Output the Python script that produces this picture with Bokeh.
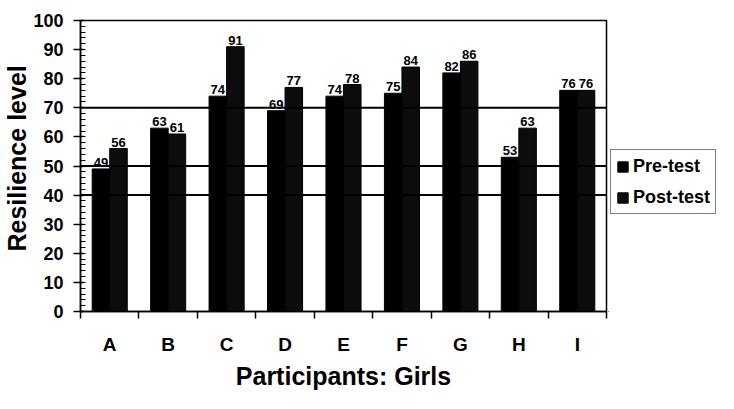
from bokeh.plotting import figure
from bokeh.layouts import row
from bokeh.models import (ColumnDataSource, Range1d, LinearAxis, FixedTicker,
                          SingleIntervalTicker, Span, Legend, LegendItem, Title)
from bokeh.transform import dodge
from bokeh.core.properties import value
from bokeh.embed import file_html
from bokeh.resources import INLINE

# ---- data ----
participants = ["A", "B", "C", "D", "E", "F", "G", "H", "I"]
pre_test = [49, 63, 74, 69, 74, 75, 82, 53, 76]
post_test = [56, 61, 91, 77, 78, 84, 86, 63, 76]
reference_levels = [70, 50, 40]
series_names = ["Pre-test", "Post-test"]
series_colors = ["#000000", "#0c0c0c"]

FONT = "Liberation Sans"

pos = list(range(1, len(participants) + 1))
src = ColumnDataSource(dict(
    x=pos,
    pre=pre_test,
    post=post_test,
    pre_lbl=[str(v) for v in pre_test],
    post_lbl=[str(v) for v in post_test],
))

p = figure(width=608, height=393, output_backend="svg", toolbar_location=None,
           x_range=Range1d(0.5, len(participants) + 0.5), y_range=Range1d(0, 100),
           x_axis_type=None, y_axis_type=None,
           min_border_left=80, min_border_right=2, min_border_top=20,
           min_border_bottom=82)
p.background_fill_color = "white"
p.border_fill_color = "white"
p.outline_line_color = "black"
p.outline_line_width = 1.5
p.xgrid.visible = False
p.ygrid.visible = False

# reference lines
for lvl in reference_levels:
    p.add_layout(Span(location=lvl, dimension="width", line_color="black",
                      line_width=2))

bw = 0.3
p.vbar(x=dodge("x", -bw / 2), top="pre", width=bw, source=src,
       fill_color=series_colors[0], line_color="black")
p.vbar(x=dodge("x", bw / 2), top="post", width=bw, source=src,
       fill_color=series_colors[1], line_color="black")

for col, lbl, off in (("pre", "pre_lbl", -bw / 2), ("post", "post_lbl", bw / 2)):
    p.text(x=dodge("x", off), y=col, text=lbl, source=src,
           text_font=value(FONT), text_font_style="bold", text_font_size="13px",
           text_align="center", text_baseline="bottom", y_offset=-2,
           text_color="black")

# y axis
yaxis = LinearAxis(ticker=SingleIntervalTicker(interval=10, num_minor_ticks=5))
yaxis.major_label_text_font = FONT
yaxis.major_label_text_font_style = "bold"
yaxis.major_label_text_font_size = "18px"
yaxis.major_label_text_color = "black"
yaxis.major_label_standoff = 10
yaxis.major_tick_out = 7
yaxis.major_tick_in = 3
yaxis.minor_tick_out = 0
yaxis.minor_tick_in = 5
yaxis.axis_line_width = 1.5
yaxis.major_tick_line_width = 1.5
p.add_layout(yaxis, "left")

ytitle = Title(text="Resilience level", align="left", offset=60, standoff=0,
               text_font=FONT, text_font_style="bold", text_font_size="25px",
               text_color="black")
p.add_layout(ytitle, "left")

# x axis
xaxis = LinearAxis(ticker=FixedTicker(ticks=pos,
                                      minor_ticks=[v - 0.5 for v in pos] + [pos[-1] + 0.5]))
xaxis.major_label_overrides = {k: c for k, c in zip(pos, participants)}
xaxis.axis_label = "Participants: Girls"
xaxis.axis_label_text_font = FONT
xaxis.axis_label_text_font_style = "bold"
xaxis.axis_label_text_font_size = "25px"
xaxis.axis_label_text_color = "black"
xaxis.axis_label_standoff = 4
xaxis.major_label_text_font = FONT
xaxis.major_label_text_font_style = "bold"
xaxis.major_label_text_font_size = "19px"
xaxis.major_label_text_color = "black"
xaxis.major_label_standoff = 15
xaxis.major_tick_out = 0
xaxis.major_tick_in = 0
xaxis.minor_tick_out = 7
xaxis.minor_tick_in = 0
xaxis.minor_tick_line_width = 1.5
xaxis.axis_line_width = 1.5
p.add_layout(xaxis, "below")

# legend panel (separate figure so the legend may sit right of the plot frame)
p2 = figure(width=110, height=393, output_backend="svg", toolbar_location=None,
            x_range=Range1d(0, 1), y_range=Range1d(0, 1),
            x_axis_type=None, y_axis_type=None,
            min_border_left=0, min_border_right=0, min_border_top=0,
            min_border_bottom=0)
p2.outline_line_color = None
p2.xgrid.visible = False
p2.ygrid.visible = False
p2.background_fill_color = "white"
p2.border_fill_color = "white"
leg_src = ColumnDataSource(dict(x=[-5], top=[-5]))
items = []
for name, color in zip(series_names, series_colors):
    r = p2.vbar(x="x", top="top", width=0.1, source=leg_src,
                fill_color=color, line_color="black")
    items.append(LegendItem(label=name, renderers=[r]))

legend = Legend(items=items, location=(2, 97), margin=0, padding=5, spacing=9,
                glyph_width=13, glyph_height=13, label_standoff=4, label_height=22,
                label_text_font=FONT, label_text_font_style="bold",
                label_text_font_size="18px", label_text_color="black",
                border_line_color="black", border_line_width=1.5,
                background_fill_alpha=1.0)
p2.add_layout(legend, "center")

layout = row(p, p2)
open("out.html", "w").write(file_html(layout, INLINE))
